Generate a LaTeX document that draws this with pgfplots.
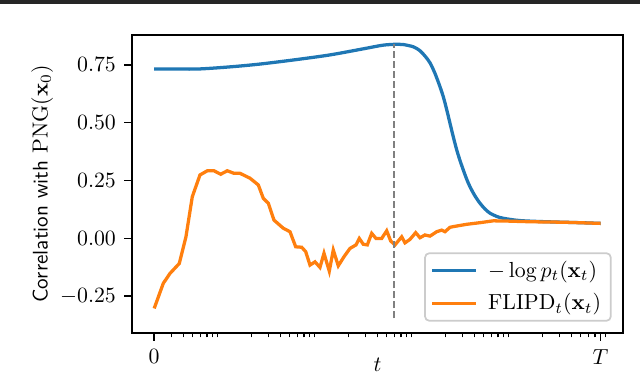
\documentclass[border=0pt]{standalone}
\usepackage{pgfplots}
\usepackage{pgfplotstable}
\pgfplotsset{compat=1.18}
\definecolor{tabblue}{HTML}{1F77B4}
\definecolor{taborange}{HTML}{FF7F0E}

% -log p_t(x_t)
\pgfplotstableread{
x y
2 0.731
3.28 0.731
5.49 0.731
8.82 0.736
15.3 0.744
26.5 0.754
58.9 0.772
129.8 0.792
284 0.818
457 0.834
632 0.838
735 0.837
938 0.827
1100 0.810
1250 0.785
1394 0.758
1560 0.715
1750 0.660
1911 0.612
2070 0.557
2242 0.497
2430 0.437
2630 0.382
2850 0.335
3077 0.295
3330 0.256
3604 0.223
4050 0.184
4568 0.152
5150 0.127
5793 0.109
6800 0.095
7947 0.087
11810 0.077
22240 0.072
49070 0.068
80000 0.065
}\neglogp

% FLIPD_t(x_t)
\pgfplotstableread{
x y
2 -0.302
2.48 -0.194
2.91 -0.151
3.63 -0.108
4.25 0.007
4.94 0.180
5.93 0.274
7.06 0.292
8.27 0.292
9.69 0.277
11.34 0.292
13.30 0.281
15.33 0.281
19.44 0.260
23.67 0.231
26.67 0.173
30.02 0.152
34.37 0.079
42.86 0.044
50.24 0.029
57.53 -0.036
66.31 -0.038
72.94 -0.057
80.79 -0.115
90.94 -0.101
102.4 -0.125
112.6 -0.064
127.7 -0.141
140.4 -0.050
158.1 -0.118
181.0 -0.079
208.7 -0.043
240.6 -0.028
260.3 0.000
286.2 -0.025
314.8 -0.028
349.4 0.022
386.9 0.000
443.0 0.000
498.9 0.033
548.6 -0.011
607.5 -0.028
712.4 0.007
770.3 -0.019
867.3 -0.004
993 0.025
1099.5 0.003
1238 0.015
1394 0.010
1635 0.029
1841 0.036
1991 0.029
2242 0.048
2424 0.051
3332 0.061
4569 0.068
6265 0.076
8611 0.075
14977 0.072
33007 0.070
80000 0.065
}\flipd

\begin{document}
\begin{tikzpicture}[x=0.4587pt,y=0.4587pt]
\useasboundingbox (0,0) rectangle (640,373);
\fill[black!85] (0,369.4) rectangle (640,373);
\begin{axis}[
    at={(60.55pt,18.35pt)}, anchor=south west,
    scale only axis,
    width=225.2pt, height=136.7pt,
    line width=0.8pt,
    xmode=log,
    xmin=1.181, xmax=136100,
    ymin=-0.408, ymax=0.878,
    xtick={2,80000},
    xticklabels={$0$,$T$},
    minor xtick={3,4,5,6,7,8,9,20,30,40,50,60,70,80,90,200,300,400,500,600,700,800,900,2000,3000,4000,5000,6000,7000,8000,9000,20000,30000,40000,50000,60000,70000,90000},
    ytick={-0.25,0,0.25,0.5,0.75},
    tick align=outside,
    xtick pos=bottom, ytick pos=left,
    major tick length=3.5pt, minor tick length=2pt,
    major tick style={line width=0.8pt, black},
    minor tick style={line width=0.6pt, black},
    yticklabel style={inner sep=0pt, xshift=-3.5pt,
        /pgf/number format/fixed,
        /pgf/number format/fixed zerofill,
        /pgf/number format/precision=2},
    xticklabel style={inner sep=0pt, yshift=-3.5pt},
    xlabel={$t$},
    xlabel style={at={(axis description cs:0.5,0)}, anchor=north, yshift=-7.6pt},
    ylabel={\textsf{Correlation with} $\mathrm{PNG}(\mathbf{x}_0)$},
    ylabel style={at={(axis description cs:-0.183,0.5)}, anchor=center,
        font=\fontsize{9.7}{11.5}\selectfont},
    legend style={at={(rel axis cs:0.977,0.038)}, anchor=south east,
        draw=black!20, line width=0.8pt, rounded corners=2pt,
        fill=white, fill opacity=0.8, text opacity=1,
        inner xsep=2.5pt, inner ysep=1.5pt, row sep=2pt, column sep=3pt},
    legend cell align=left,
    legend image code/.code={\draw[#1] (0pt,0pt) -- (20pt,0pt);},
]
\addplot[tabblue, line width=1.5pt, smooth] table[x=x, y=y] {\neglogp};
\addlegendentry{$-\log p_t(\mathbf{x}_t)$}
\addplot[taborange, line width=1.5pt] table[x=x, y=y] {\flipd};
\addlegendentry{$\mathrm{FLIPD}_t(\mathbf{x}_t)$}
\addplot[gray, line width=1.1pt, dash pattern=on 3.2pt off 1.4pt, forget plot]
    coordinates {(597.4,-0.345) (597.4,0.838)};
\end{axis}
\end{tikzpicture}
\end{document}
